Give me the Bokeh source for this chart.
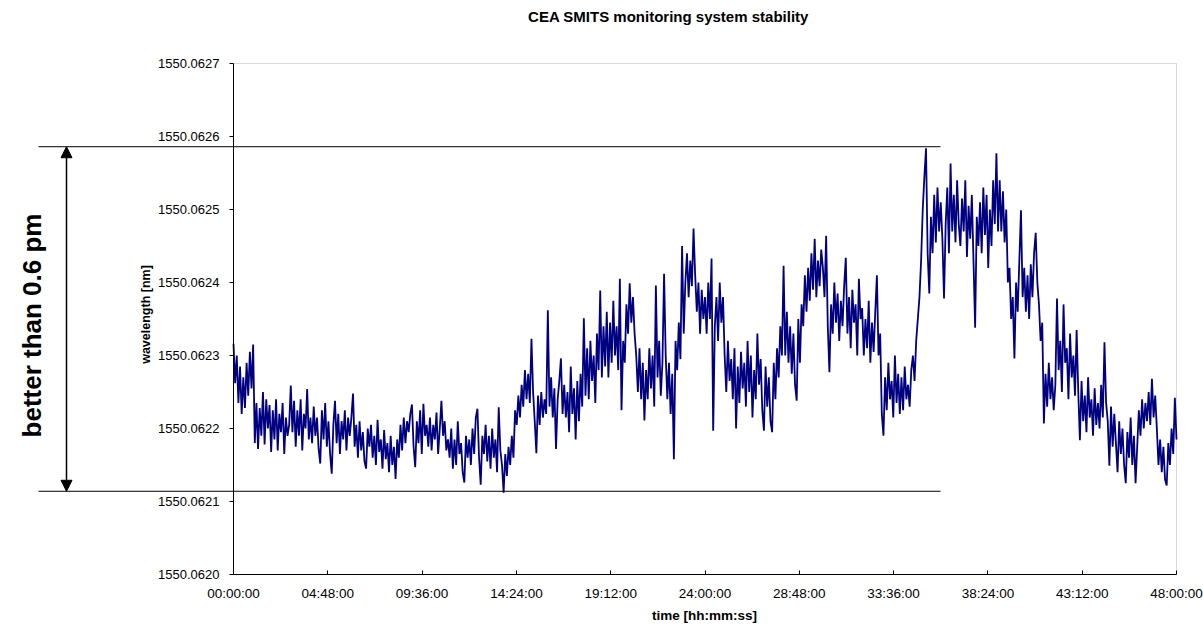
import numpy as np
from bokeh.plotting import figure
from bokeh.models import Range1d, FixedTicker, PrintfTickFormatter, Label, Arrow, NormalHead, ColumnDataSource, BoxAnnotation
from bokeh.embed import file_html
from bokeh.resources import INLINE

title_text = "CEA SMITS monitoring system stability"
x_label = "time [hh:mm:ss]"
y_label = "wavelength [nm]"
band_text = "better than 0.6 pm"

# wavelength = base_nm + offset * 1e-6 nm, one reading every 5 minutes
base_nm = 1550.0620
sample_step_h = 1.0 / 12.0
offset_unm = [
    316, 262, 300, 235, 285, 220, 270, 228, 290, 245, 305, 255,
    315, 180, 235, 172, 228, 190, 250, 178, 240, 200, 232, 168,
    225, 185, 240, 170, 220, 195, 235, 165, 215, 190, 205, 259,
    195, 238, 175, 225, 190, 240, 170, 220, 200, 254, 185, 215,
    180, 230, 190, 215, 172, 152, 225, 185, 235, 175, 210, 165,
    138, 205, 238, 180, 220, 165, 210, 185, 225, 170, 215, 190,
    215, 248, 175, 205, 160, 210, 170, 195, 155, 145, 200, 175,
    205, 160, 190, 150, 212, 168, 185, 145, 198, 158, 180, 140,
    190, 150, 175, 131, 185, 160, 205, 170, 215, 180, 210, 195,
    220, 233, 175, 147, 210, 180, 225, 165, 234, 190, 205, 175,
    215, 170, 205, 185, 222, 165, 200, 238, 190, 210, 170, 185,
    160, 200, 145, 185, 150, 210, 165, 180, 140, 126, 190, 160,
    185, 150, 200, 165, 215, 227, 160, 123, 190, 165, 205, 155,
    190, 145, 200, 160, 185, 140, 229, 170, 150, 112, 165, 135,
    175, 150, 190, 160, 225, 205, 245, 215, 260, 230, 280, 240,
    275, 235, 323, 250, 210, 166, 245, 205, 250, 215, 240, 220,
    362, 230, 270, 215, 255, 172, 240, 265, 296, 220, 260, 215,
    250, 195, 285, 220, 255, 185, 265, 210, 275, 230, 351, 245,
    310, 240, 320, 265, 300, 235, 330, 280, 389, 270, 340, 285,
    360, 270, 345, 290, 375, 300, 340, 280, 405, 225, 320, 290,
    370, 330, 399, 345, 380, 330, 300, 250, 310, 240, 290, 211,
    280, 240, 310, 255, 300, 230, 396, 270, 320, 245, 290, 412,
    300, 240, 290, 220, 275, 158, 320, 280, 345, 295, 450, 330,
    400, 440, 380, 430, 395, 474, 410, 360, 400, 330, 390, 350,
    380, 330, 400, 350, 433, 197, 340, 380, 320, 400, 345, 380,
    300, 250, 320, 265, 295, 240, 310, 200, 285, 235, 305, 255,
    290, 230, 320, 250, 300, 215, 280, 240, 330, 260, 295, 225,
    197, 285, 230, 270, 210, 195, 290, 240, 310, 270, 340, 300,
    423, 300, 360, 290, 340, 275, 330, 260, 238, 350, 290, 370,
    340, 410, 360, 420, 375, 440, 390, 460, 380, 430, 395, 445,
    420, 380, 464, 340, 277, 370, 330, 400, 345, 385, 320, 375,
    340, 395, 434, 330, 380, 310, 390, 345, 370, 300, 405, 350,
    365, 300, 350, 310, 375, 290, 345, 305, 360, 410, 300, 330,
    220, 190, 270, 225, 290, 240, 265, 215, 300, 235, 275, 220,
    270, 225, 285, 240, 260, 230, 280, 300, 265, 320, 350, 380,
    430, 500, 545, 584, 440, 385, 490, 440, 520, 455, 530, 470,
    510, 460, 378, 480, 530, 440, 563, 470, 520, 455, 540, 480,
    450, 515, 470, 540, 435, 505, 460, 520, 430, 338, 490, 450,
    510, 440, 530, 465, 520, 420, 500, 450, 540, 480, 577, 470,
    540, 470, 525, 455, 500, 400, 420, 350, 380, 296, 400, 360,
    430, 499, 380, 420, 360, 410, 350, 425, 380, 440, 468, 400,
    370, 320, 345, 207, 275, 230, 290, 240, 270, 225, 260, 378,
    280, 320, 250, 370, 290, 310, 240, 330, 270, 300, 245, 335,
    250, 184, 265, 210, 245, 195, 270, 215, 240, 190, 255, 205,
    235, 200, 260, 215, 318, 235, 210, 149, 230, 175, 220, 180,
    140, 210, 165, 200, 150, 125, 195, 160, 215, 150, 190, 125,
    175, 225, 190, 240, 200, 235, 210, 250, 205, 268, 215, 245,
    200, 150, 185, 140, 175, 130, 122, 180, 150, 200, 165, 242,
    185,
]

x_tick_hours = [0, 4.8, 9.6, 14.4, 19.2, 24, 28.8, 33.6, 38.4, 43.2, 48]
x_tick_labels = ["00:00:00", "04:48:00", "09:36:00", "14:24:00", "19:12:00", "24:00:00",
                 "28:48:00", "33:36:00", "38:24:00", "43:12:00", "48:00:00"]
y_ticks = [1550.0620, 1550.0621, 1550.0622, 1550.0623, 1550.0624, 1550.0625, 1550.0626, 1550.0627]
band_top_nm = 1550.062586
band_bottom_nm = 1550.062114

# ---- layout geometry (canvas pixels) ----
W, H = 1203, 624
AX_L, AX_R, AX_T, AX_B = 233.0, 1176.0, 63.0, 574.0
x_lo, x_hi = x_tick_hours[0], x_tick_hours[-1]
y_lo, y_hi = y_ticks[0], y_ticks[-1]
hx = (x_hi - x_lo) / (AX_R - AX_L)
hy = (y_hi - y_lo) / (AX_B - AX_T)


def px_x(px):
    return x_lo + (px - AX_L) * hx


def px_y(py):
    return y_lo + (AX_B - py) * hy


t = np.arange(len(offset_unm)) * sample_step_h
wl = base_nm + np.array(offset_unm, dtype=float) * 1e-6
src = ColumnDataSource(dict(t=t, wl=wl))

FONT = "Liberation Sans"

p = figure(width=W, height=H, output_backend="svg", toolbar_location=None,
           x_range=Range1d(px_x(0), px_x(W)), y_range=Range1d(px_y(H), px_y(0)),
           min_border=0)
p.title.visible = False
p.background_fill_color = "white"
p.border_fill_color = "white"
p.outline_line_color = None
p.xgrid.visible = False
p.ygrid.visible = False

# plot-area border (grey top/right as in the original)
p.add_layout(BoxAnnotation(left=x_lo, right=x_hi, bottom=y_lo, top=y_hi, fill_alpha=0,
                           line_color="#808080", line_width=1, level="underlay"))

p.line("t", "wl", source=src, line_color="#000080", line_width=1.8)

xa = p.xaxis[0]
xa.fixed_location = y_lo
xa.bounds = (x_lo, x_hi)
xa.ticker = FixedTicker(ticks=x_tick_hours)
xa.major_label_overrides = {h: s for h, s in zip(x_tick_hours, x_tick_labels)}
xa.major_tick_in = 4
xa.major_tick_out = 0
xa.minor_tick_in = 0
xa.minor_tick_out = 0
xa.major_label_standoff = 11
xa.major_label_text_font = FONT
xa.major_label_text_font_size = "13.5px"
xa.major_label_text_color = "black"
xa.axis_line_color = "black"
xa.major_tick_line_color = "black"

ya = p.yaxis[0]
ya.fixed_location = x_lo
ya.bounds = (y_lo, y_hi)
ya.ticker = FixedTicker(ticks=y_ticks)
ya.formatter = PrintfTickFormatter(format="%.4f")
ya.major_tick_in = 0
ya.major_tick_out = 4
ya.minor_tick_in = 0
ya.minor_tick_out = 0
ya.major_label_standoff = 10
ya.major_label_text_font = FONT
ya.major_label_text_font_size = "13px"
ya.major_label_text_color = "black"
ya.axis_line_color = "black"
ya.major_tick_line_color = "black"

# texts
p.add_layout(Label(x=px_x(668), y=px_y(16), text=title_text, text_align="center", text_baseline="middle",
                   text_font=FONT, text_font_size="15px", text_font_style="bold", text_color="black"))
p.add_layout(Label(x=px_x(704), y=px_y(615), text=x_label, text_align="center", text_baseline="middle",
                   text_font=FONT, text_font_size="13.5px", text_font_style="bold", text_color="black"))
p.add_layout(Label(x=px_x(145), y=px_y(314), text=y_label, angle=90, angle_units="deg",
                   text_align="center", text_baseline="middle",
                   text_font=FONT, text_font_size="12.5px", text_font_style="bold", text_color="black"))

# stability band annotation
for yb in (band_top_nm, band_bottom_nm):
    p.add_layout(Arrow(start=None, end=None, x_start=px_x(38), y_start=yb, x_end=px_x(940), y_end=yb,
                       line_color="black", line_width=1))
p.add_layout(Arrow(start=NormalHead(size=11, fill_color="black", line_color="black"),
                   end=NormalHead(size=11, fill_color="black", line_color="black"),
                   x_start=px_x(66), y_start=band_bottom_nm, x_end=px_x(66), y_end=band_top_nm,
                   line_color="black", line_width=1.5))
p.add_layout(Label(x=px_x(31), y=px_y(325), text=band_text, angle=90, angle_units="deg",
                   text_align="center", text_baseline="middle", text_font=FONT,
                   text_font_size="26px", text_font_style="bold", text_color="black"))

open("out.html", "w").write(file_html(p, INLINE))
